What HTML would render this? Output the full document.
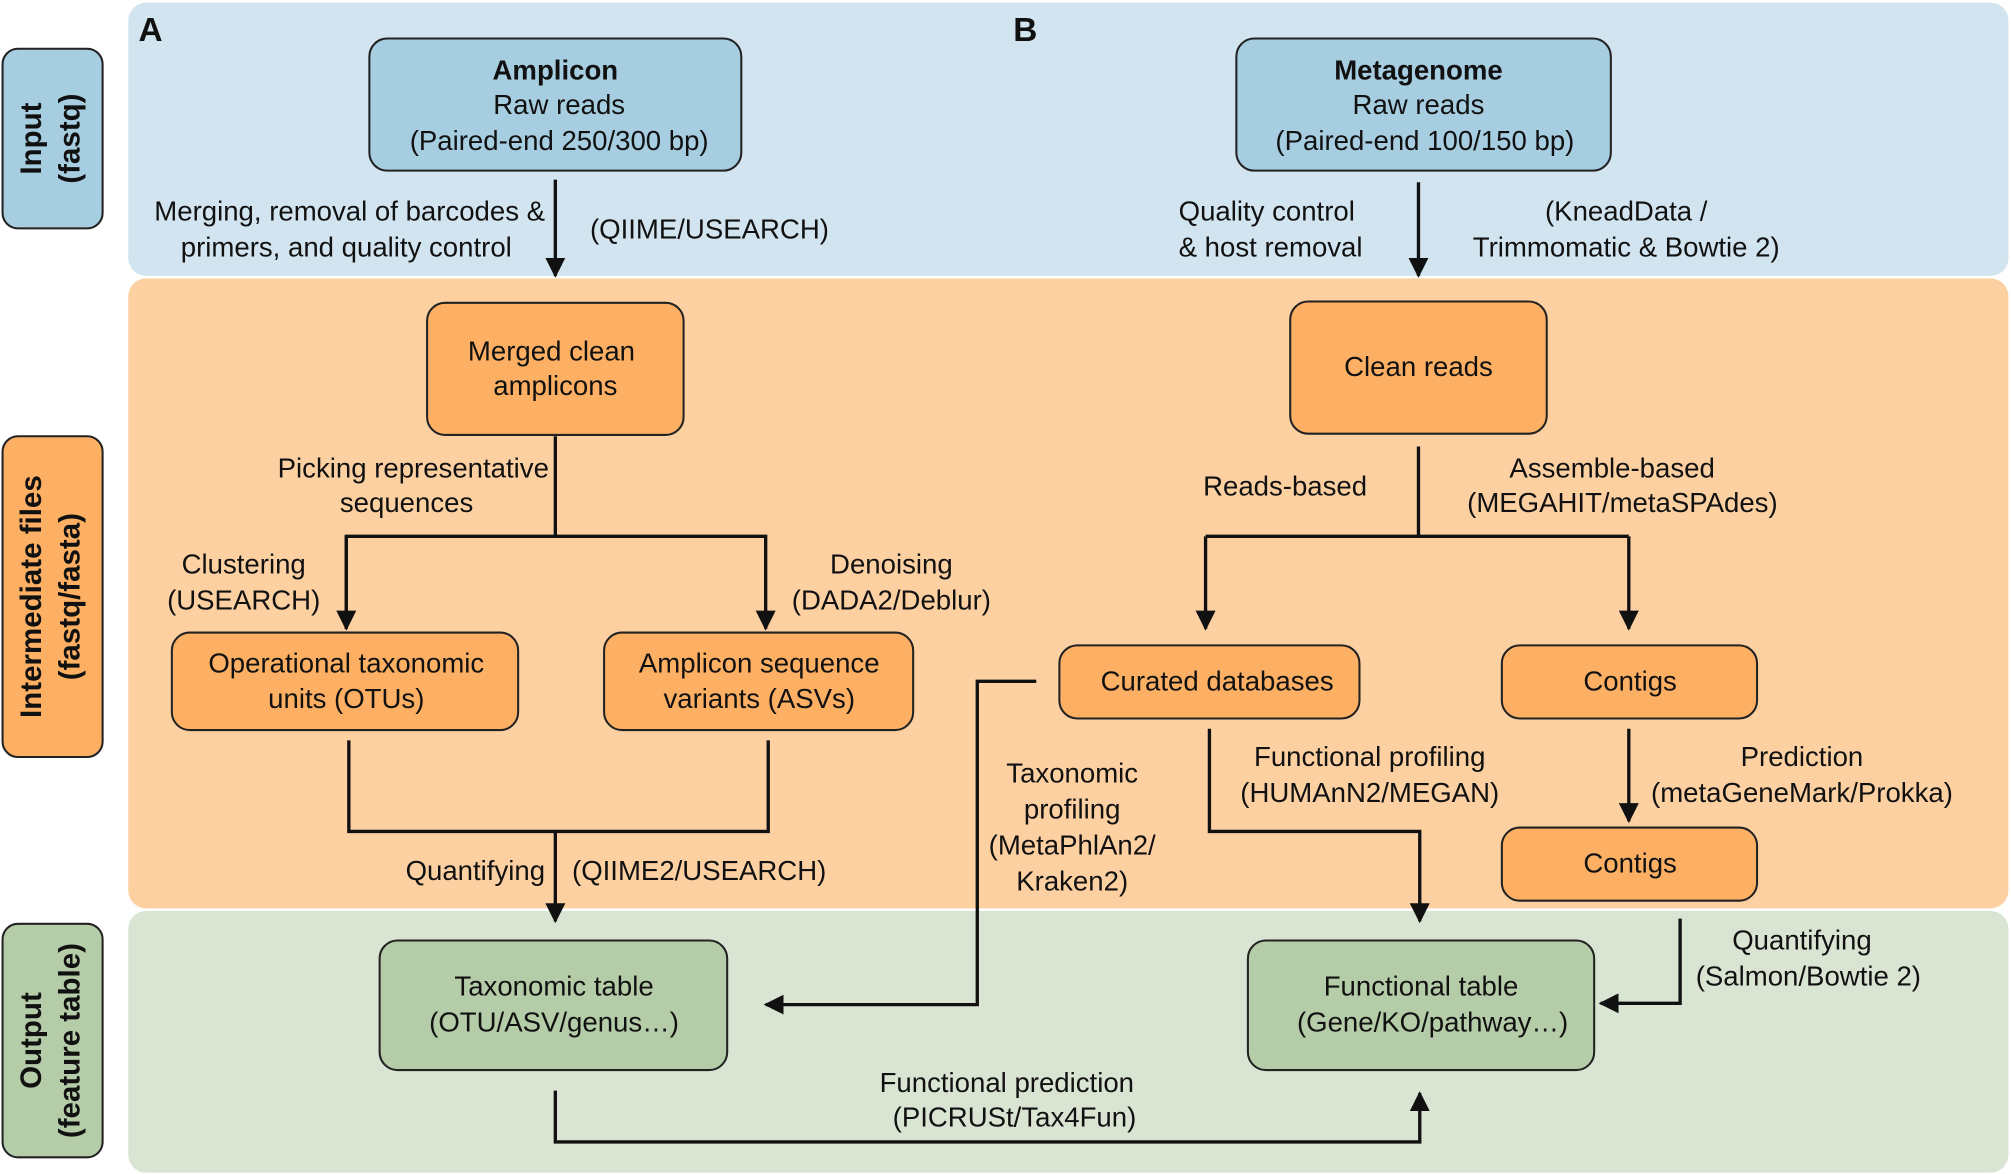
<!DOCTYPE html>
<html><head><meta charset="utf-8"><style>
html,body{margin:0;padding:0;background:#fff}
svg{display:block}
text{font-family:"Liberation Sans",Arial,sans-serif;font-size:21.5px;fill:#111}
.b{font-weight:bold}
.s{font-size:23px}
.c{text-anchor:middle}
.r{text-anchor:end}
.ln{stroke:#111;stroke-width:2.6;fill:none}
.bx{stroke:#222;stroke-width:1.6}
</style></head><body>
<svg width="2011" height="1174" viewBox="0 0 1568 915" preserveAspectRatio="none" xmlns="http://www.w3.org/2000/svg">
<defs><marker id="a" viewBox="0 0 10 10" refX="9" refY="5" markerWidth="6" markerHeight="8" orient="auto" markerUnits="strokeWidth"><path d="M0,0 L10,5 L0,10 z" fill="#111"/></marker></defs>
<rect x="100" y="2" width="1466" height="213" rx="14" fill="#d2e4ef"/>
<rect x="100" y="217" width="1466" height="491" rx="14" fill="#fdd0a2"/>
<rect x="100" y="710" width="1466" height="204" rx="14" fill="#dae4d2"/>
<rect class="bx" x="2" y="38" width="78" height="140" rx="12" fill="#a6cde0"/>
<rect class="bx" x="2" y="340" width="78" height="250" rx="12" fill="#fdb063"/>
<rect class="bx" x="2" y="720" width="78" height="182" rx="12" fill="#b5cca8"/>
<text class="b c s" transform="translate(32,108) rotate(-90)">Input</text>
<text class="b c s" transform="translate(62,108) rotate(-90)">(fastq)</text>
<text class="b c s" transform="translate(32,465) rotate(-90)">Intermediate files</text>
<text class="b c s" transform="translate(62,465) rotate(-90)">(fastq/fasta)</text>
<text class="b c s" transform="translate(32,811) rotate(-90)">Output</text>
<text class="b c s" transform="translate(62,811) rotate(-90)">(feature table)</text>
<text class="b" x="108" y="32" style="font-size:26px">A</text>
<text class="b" x="790" y="32" style="font-size:26px">B</text>
<rect class="bx" x="288" y="30" width="290" height="103" rx="14" fill="#a6cde0"/>
<text class="c b" x="433" y="62">Amplicon</text>
<text class="c" x="436" y="89">Raw reads</text>
<text class="c" x="436" y="117">(Paired-end 250/300 bp)</text>
<rect class="bx" x="964" y="30" width="292" height="103" rx="14" fill="#a6cde0"/>
<text class="c b" x="1106" y="62">Metagenome</text>
<text class="c" x="1106" y="89">Raw reads</text>
<text class="c" x="1111" y="117">(Paired-end 100/150 bp)</text>
<line class="ln" x1="433" y1="140" x2="433" y2="215" marker-end="url(#a)"/>
<text class="r" x="425" y="172">Merging, removal of barcodes &amp;</text>
<text class="c" x="270" y="200">primers, and quality control</text>
<text x="460" y="186">(QIIME/USEARCH)</text>
<line class="ln" x1="1106" y1="142" x2="1106" y2="215" marker-end="url(#a)"/>
<text x="919" y="172">Quality control</text>
<text x="919" y="200">&amp; host removal</text>
<text class="c" x="1268" y="172">(KneadData /</text>
<text class="c" x="1268" y="200">Trimmomatic &amp; Bowtie 2)</text>
<rect class="bx" x="333" y="236" width="200" height="103" rx="14" fill="#fdb063"/>
<text class="c" x="430" y="281">Merged clean</text>
<text class="c" x="433" y="308">amplicons</text>
<path class="ln" d="M433,340 V418"/>
<path class="ln" d="M270,490 V418 H597 V490" marker-end="url(#a)"/>
<path class="ln" d="M270,418 V490" marker-end="url(#a)"/>
<text class="r" x="428" y="372">Picking representative</text>
<text class="c" x="317" y="399">sequences</text>
<text class="c" x="190" y="447">Clustering</text>
<text class="c" x="190" y="475">(USEARCH)</text>
<text class="c" x="695" y="447">Denoising</text>
<text class="c" x="695" y="475">(DADA2/Deblur)</text>
<rect class="bx" x="134" y="493" width="270" height="76" rx="14" fill="#fdb063"/>
<text class="c" x="270" y="524">Operational taxonomic</text>
<text class="c" x="270" y="552">units (OTUs)</text>
<rect class="bx" x="471" y="493" width="241" height="76" rx="14" fill="#fdb063"/>
<text class="c" x="592" y="524">Amplicon sequence</text>
<text class="c" x="592" y="552">variants (ASVs)</text>
<path class="ln" d="M272,577 V648 H599 V577"/>
<line class="ln" x1="433" y1="648" x2="433" y2="718" marker-end="url(#a)"/>
<text class="r" x="425" y="686">Quantifying</text>
<text x="446" y="686">(QIIME2/USEARCH)</text>
<rect class="bx" x="1006" y="235" width="200" height="103" rx="14" fill="#fdb063"/>
<text class="c" x="1106" y="293">Clean reads</text>
<path class="ln" d="M1106,348 V418"/>
<path class="ln" d="M940,418 H1270"/>
<line class="ln" x1="940" y1="418" x2="940" y2="490" marker-end="url(#a)"/>
<line class="ln" x1="1270" y1="418" x2="1270" y2="490" marker-end="url(#a)"/>
<text class="c" x="1002" y="386">Reads-based</text>
<text class="c" x="1257" y="372">Assemble-based</text>
<text class="c" x="1265" y="399">(MEGAHIT/metaSPAdes)</text>
<rect class="bx" x="826" y="503" width="234" height="57" rx="14" fill="#fdb063"/>
<text class="c" x="949" y="538">Curated databases</text>
<rect class="bx" x="1171" y="503" width="199" height="57" rx="14" fill="#fdb063"/>
<text class="c" x="1271" y="538">Contigs</text>
<rect class="bx" x="1171" y="645" width="199" height="57" rx="14" fill="#fdb063"/>
<text class="c" x="1271" y="680">Contigs</text>
<path class="ln" d="M808,531 H762 V783 H597" marker-end="url(#a)"/>
<text class="c" x="836" y="610">Taxonomic</text>
<text class="c" x="836" y="638">profiling</text>
<text class="c" x="836" y="666">(MetaPhlAn2/</text>
<text class="c" x="836" y="694">Kraken2)</text>
<path class="ln" d="M943,568 V648 H1107 V718" marker-end="url(#a)"/>
<text class="c" x="1068" y="597">Functional profiling</text>
<text class="c" x="1068" y="625">(HUMAnN2/MEGAN)</text>
<line class="ln" x1="1270" y1="568" x2="1270" y2="640" marker-end="url(#a)"/>
<text class="c" x="1405" y="597">Prediction</text>
<text class="c" x="1405" y="625">(metaGeneMark/Prokka)</text>
<path class="ln" d="M1310,716 V782 H1248" marker-end="url(#a)"/>
<text class="c" x="1405" y="740">Quantifying</text>
<text class="c" x="1410" y="768">(Salmon/Bowtie 2)</text>
<rect class="bx" x="296" y="733" width="271" height="101" rx="14" fill="#b5cca8"/>
<text class="c" x="432" y="776">Taxonomic table</text>
<text class="c" x="432" y="804">(OTU/ASV/genus…)</text>
<rect class="bx" x="973" y="733" width="270" height="101" rx="14" fill="#b5cca8"/>
<text class="c" x="1108" y="776">Functional table</text>
<text class="c" x="1117" y="804">(Gene/KO/pathway…)</text>
<path class="ln" d="M433,850 V890 H1107 V852" marker-end="url(#a)"/>
<text class="c" x="785" y="851">Functional prediction</text>
<text class="c" x="791" y="878">(PICRUSt/Tax4Fun)</text>
</svg>
</body></html>
